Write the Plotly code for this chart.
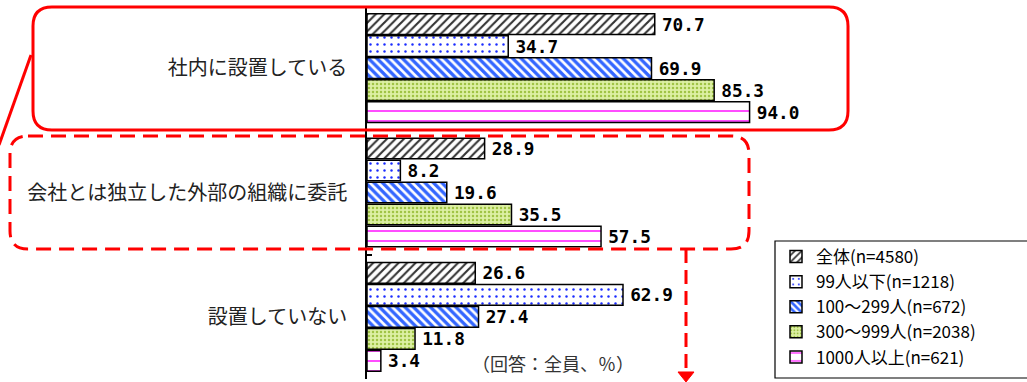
import plotly.graph_objects as go

categories = ["社内に設置している", "会社とは独立した外部の組織に委託", "設置していない"]
series_names = ["全体(n=4580)", "99人以下(n=1218)", "100～299人(n=672)", "300～999人(n=2038)", "1000人以上(n=621)"]
v_total = [70.7, 28.9, 26.6]
v_99 = [34.7, 8.2, 62.9]
v_100_299 = [69.9, 19.6, 27.4]
v_300_999 = [85.3, 35.5, 11.8]
v_1000 = [94.0, 57.5, 3.4]
series_values = [v_total, v_99, v_100_299, v_300_999, v_1000]

patterns = [
    dict(shape="/", fgcolor="#333333", bgcolor="white", size=6, solidity=0.35, fillmode="overlay", fgopacity=1),
    dict(shape=".", fgcolor="#1a2cff", bgcolor="white", size=7, solidity=0.1, fillmode="overlay", fgopacity=1),
    dict(shape="\\", fgcolor="#3366ff", bgcolor="white", size=6, solidity=0.55, fillmode="overlay", fgopacity=1),
    dict(shape=".", fgcolor="#a0c444", bgcolor="#ddf0a4", size=4, solidity=0.3, fillmode="overlay", fgopacity=1),
    dict(shape="-", fgcolor="#ff22ff", bgcolor="white", size=10, solidity=0.16, fillmode="overlay", fgopacity=1),
]

W, H = 1027, 382
L, R, T, B = 367, 1027, 6, 379
PW, PH = R - L, B - T
x_max = PW / 4.07


def px(x):
    return (x - L) / PW


def py(y):
    return (B - y) / PH


def rrect(x0, y0, x1, y1, r):
    pts = [
        ("M", [(x0 + r, y0)]), ("L", [(x1 - r, y0)]), ("Q", [(x1, y0), (x1, y0 + r)]),
        ("L", [(x1, y1 - r)]), ("Q", [(x1, y1), (x1 - r, y1)]), ("L", [(x0 + r, y1)]),
        ("Q", [(x0, y1), (x0, y1 - r)]), ("L", [(x0, y0 + r)]), ("Q", [(x0, y0), (x0 + r, y0)]),
    ]
    s = ""
    for cmd, ps in pts:
        s += cmd + " " + " ".join(f"{px(a):.5f},{py(b):.5f}" for a, b in ps) + " "
    return s + "Z"


fig = go.Figure()
for name, vals, pat in zip(series_names, series_values, patterns):
    fig.add_trace(go.Bar(
        y=categories, x=vals, name=name, orientation="h",
        marker=dict(pattern=pat, line=dict(color="black", width=1.5)),
        text=[f'<span style="font-size:7px"> </span>{v:.1f}' for v in vals],
        textposition="outside", cliponaxis=False,
        textfont=dict(family="DejaVu Sans Mono", size=18, color="black", weight="bold"),
    ))

red = "#ff0000"
shapes = [
    dict(type="path", xref="paper", yref="paper", path=rrect(33, 7, 848, 130, 19),
         line=dict(color=red, width=3)),
    dict(type="line", xref="paper", yref="paper", x0=px(31), y0=py(55), x1=px(-1), y1=py(145),
         line=dict(color=red, width=3)),
    dict(type="path", xref="paper", yref="paper", path=rrect(10, 136, 749, 249, 18),
         line=dict(color=red, width=3, dash="15px,8px")),
    dict(type="line", xref="paper", yref="paper", x0=px(686), y0=py(249), x1=px(686), y1=py(373),
         line=dict(color=red, width=3, dash="14px,7px")),
    dict(type="path", xref="paper", yref="paper",
         path=f"M {px(678):.5f},{py(372):.5f} L {px(694):.5f},{py(372):.5f} L {px(686):.5f},{py(382):.5f} Z",
         fillcolor=red, line=dict(color=red, width=1)),
    dict(type="rect", xref="paper", yref="paper", x0=px(775), y0=py(241), x1=px(1032), y1=py(378),
         line=dict(color="black", width=1.2), fillcolor="white", layer="above"),
]

fig.update_layout(
    width=W, height=H,
    margin=dict(l=L, r=W - R, t=T, b=H - B, pad=0),
    paper_bgcolor="white", plot_bgcolor="white",
    barmode="group", bargap=0.115, bargroupgap=0.06,
    shapes=shapes,
    font=dict(family="Noto Sans CJK JP", color="black"),
    showlegend=True,
    legend=dict(
        x=px(776), y=py(239), xanchor="left", yanchor="top",
        borderwidth=0, bgcolor="rgba(0,0,0,0)",
        font=dict(family="Noto Sans CJK JP", size=17, color="black"),
        traceorder="normal", tracegroupgap=0,
    ),
    annotations=[dict(
        text="（回答：全員、％）", xref="paper", yref="paper", x=px(470), y=py(363),
        xanchor="left", yanchor="middle", showarrow=False,
        font=dict(family="Noto Sans CJK JP", size=18, color="#333333"),
    )],
)
fig.update_xaxes(range=[0, x_max], visible=False, showgrid=False, zeroline=False)
fig.update_yaxes(
    type="category", autorange="reversed", showline=True, linecolor="black", linewidth=1.5,
    ticks="inside", tickson="boundaries", ticklen=5, tickcolor="black", tickwidth=1.5,
    ticklabelstandoff=14, showgrid=False,
    tickfont=dict(family="Noto Sans CJK JP", size=20, color="#222222"),
)

fig.write_html("out.html")
